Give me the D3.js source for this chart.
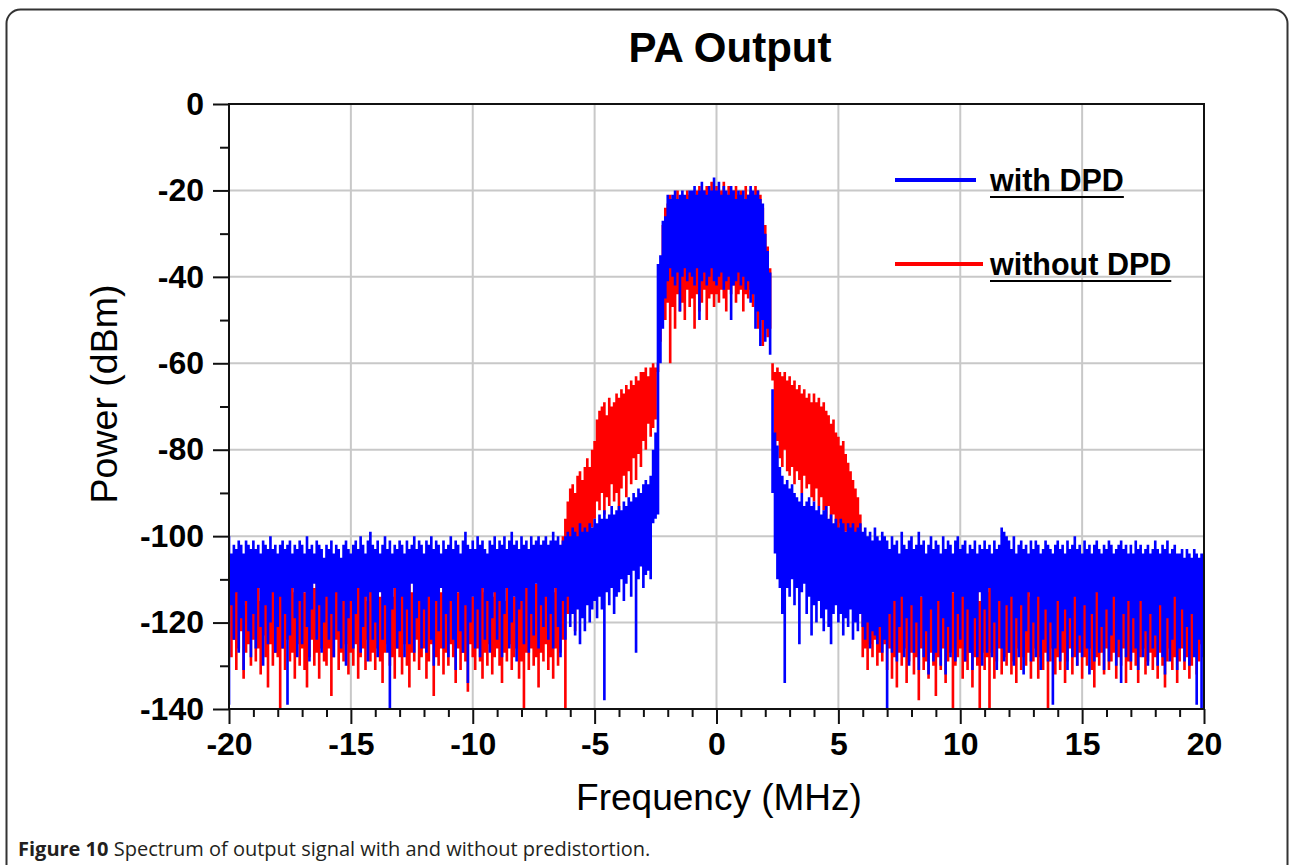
<!DOCTYPE html>
<html>
<head>
<meta charset="utf-8">
<script src="https://cdn.jsdelivr.net/npm/d3@7"></script>
<style>
  body { margin: 0; background: #fff; }
  .tick text { font-family: "Liberation Sans", Arial, sans-serif; font-weight: bold; font-size: 32px; fill: #000; }
</style>
</head>
<body>
<div id="chart"></div>
<script>
// spectrum sampled every 0.1 MHz from -20 to 20 MHz; each bin holds the top and bottom of the trace (dBm)
var freqStart = -20, freqStep = 0.1;

var withHi = [
  -100,-104,-102,-103,-101,-102,-104,-101,-102,-103,
  -101,-103,-102,-104,-101,-102,-103,-100,-103,-102,
  -104,-102,-101,-103,-102,-101,-104,-102,-103,-101,
  -102,-104,-100,-103,-102,-104,-101,-102,-103,-105,
  -102,-103,-101,-104,-102,-103,-105,-102,-101,-103,
  -104,-102,-101,-103,-100,-102,-104,-101,-99,-102,
  -103,-101,-104,-102,-100,-103,-101,-104,-102,-103,
  -101,-102,-104,-101,-103,-102,-100,-103,-101,-102,
  -104,-101,-102,-100,-103,-101,-102,-104,-101,-103,
  -102,-100,-103,-101,-102,-104,-101,-99,-102,-103,
  -101,-103,-100,-102,-101,-103,-104,-101,-102,-100,
  -103,-101,-102,-100,-103,-101,-99,-102,-101,-103,
  -100,-102,-101,-103,-100,-102,-101,-100,-102,-101,
  -100,-102,-101,-99,-101,-100,-102,-101,-100,-99,
  -100,-98,-99,-100,-97,-99,-98,-99,-97,-98,
  -96,-97,-95,-96,-94,-96,-95,-93,-95,-94,
  -93,-94,-92,-93,-91,-92,-90,-91,-89,-90,
  -88,-87,-88,-86,-80,-76,-37,-35,-27,-26,
  -21,-22,-21,-20,-22,-21,-20,-21,-22,-20,
  -20,-19,-21,-20,-18,-20,-21,-19,-20,-17,
  -20,-18,-21,-19,-20,-21,-19,-20,-22,-20,
  -21,-20,-22,-21,-19,-20,-21,-20,-22,-23,
  -30,-34,-39,-66,-76,-79,-84,-86,-88,-87,
  -89,-88,-90,-91,-92,-90,-93,-92,-91,-93,
  -92,-94,-93,-95,-94,-93,-96,-95,-97,-96,
  -98,-96,-97,-99,-97,-98,-97,-99,-98,-97,
  -99,-98,-100,-99,-101,-98,-100,-101,-99,-100,
  -101,-103,-100,-102,-101,-104,-99,-102,-103,-101,
  -100,-103,-102,-99,-102,-101,-104,-102,-100,-103,
  -101,-102,-104,-100,-103,-101,-102,-104,-101,-100,
  -103,-102,-101,-104,-102,-103,-101,-104,-102,-103,
  -101,-103,-102,-104,-101,-103,-102,-98,-99,-100,
  -101,-103,-100,-104,-102,-101,-103,-102,-104,-101,
  -103,-101,-102,-104,-103,-101,-102,-103,-104,-102,
  -101,-103,-102,-104,-101,-103,-102,-100,-103,-102,
  -104,-101,-103,-102,-104,-102,-101,-103,-104,-102,
  -103,-101,-102,-104,-103,-102,-101,-103,-102,-104,
  -102,-104,-101,-103,-102,-104,-103,-102,-104,-103,
  -101,-103,-104,-102,-103,-101,-104,-103,-102,-104,
  -104,-103,-105,-103,-104,-105,-103,-104,-105,-104,
  -104
];

var withLo = [
  -139,-116,-124,-113,-127,-119,-131,-115,-122,-128,
  -118,-126,-112,-121,-130,-116,-125,-120,-113,-127,
  -121,-114,-126,-118,-139,-123,-112,-119,-128,-115,
  -125,-113,-121,-129,-117,-111,-124,-116,-127,-120,
  -114,-124,-118,-128,-113,-122,-126,-115,-130,-119,
  -115,-126,-118,-112,-127,-121,-114,-129,-113,-124,
  -120,-128,-113,-124,-116,-127,-140,-117,-112,-126,
  -122,-114,-128,-117,-125,-111,-127,-119,-115,-126,
  -117,-127,-114,-124,-130,-115,-122,-112,-126,-118,
  -128,-115,-124,-131,-113,-122,-127,-116,-134,-120,
  -114,-126,-117,-128,-112,-124,-115,-127,-119,-113,
  -124,-115,-128,-118,-112,-126,-120,-114,-129,-117,
  -115,-125,-112,-127,-118,-123,-111,-126,-116,-121,
  -114,-124,-118,-126,-112,-121,-128,-115,-124,-114,
  -121,-118,-123,-117,-125,-119,-122,-116,-120,-117,
  -115,-119,-114,-117,-138,-113,-116,-112,-118,-114,
  -113,-110,-115,-111,-109,-114,-108,-127,-110,-107,
  -112,-109,-108,-110,-97,-96,-95,-60,-52,-45,
  -41,-38,-40,-42,-39,-48,-40,-38,-41,-39,
  -40,-42,-38,-50,-41,-39,-42,-40,-38,-41,
  -42,-40,-39,-43,-41,-40,-50,-42,-41,-39,
  -42,-40,-43,-41,-46,-44,-52,-48,-56,-50,
  -55,-52,-58,-90,-104,-110,-112,-118,-134,-112,
  -114,-110,-116,-112,-125,-113,-111,-118,-114,-123,
  -116,-120,-115,-119,-122,-117,-121,-125,-118,-116,
  -120,-118,-123,-119,-121,-117,-124,-120,-122,-118,
  -121,-124,-120,-126,-122,-123,-125,-121,-127,-124,
  -140,-118,-127,-115,-129,-121,-114,-128,-119,-130,
  -116,-127,-120,-131,-114,-128,-122,-132,-117,-129,
  -127,-115,-130,-119,-132,-121,-128,-113,-129,-118,
  -124,-114,-129,-117,-127,-131,-119,-128,-113,-130,
  -117,-127,-112,-128,-120,-131,-115,-126,-129,-116,
  -127,-114,-130,-119,-128,-116,-132,-122,-113,-129,
  -120,-128,-114,-131,-124,-117,-129,-120,-139,-126,
  -115,-129,-122,-117,-131,-119,-128,-114,-130,-123,
  -128,-116,-126,-132,-118,-129,-113,-127,-121,-131,
  -117,-129,-123,-114,-130,-124,-134,-118,-128,-115,
  -129,-119,-126,-131,-115,-128,-122,-130,-118,-126,
  -123,-130,-116,-128,-132,-119,-129,-124,-114,-131,
  -126,-117,-129,-121,-130,-118,-128,-139,-124,-140,
  -128
];

var withoutHi = [
  -112,-108,-115,-110,-113,-109,-116,-111,-108,-114,
  -110,-113,-107,-115,-111,-109,-114,-112,-108,-113,
  -114,-110,-112,-108,-115,-111,-109,-113,-110,-107,
  -109,-113,-111,-115,-108,-112,-110,-114,-109,-112,
  -113,-108,-111,-114,-110,-107,-112,-109,-115,-111,
  -110,-114,-109,-112,-108,-113,-111,-115,-110,-108,
  -112,-109,-114,-110,-113,-108,-111,-114,-109,-112,
  -108,-112,-110,-115,-109,-113,-111,-107,-114,-110,
  -113,-110,-108,-112,-114,-109,-111,-113,-108,-115,
  -109,-114,-111,-108,-113,-110,-115,-112,-109,-111,
  -114,-109,-112,-110,-107,-113,-111,-108,-114,-110,
  -111,-108,-113,-115,-110,-112,-109,-114,-111,-108,
  -113,-110,-108,-112,-114,-109,-111,-106,-113,-110,
  -111,-114,-109,-113,-110,-112,-108,-100,-96,-92,
  -89,-88,-90,-86,-85,-87,-84,-82,-84,-80,
  -78,-73,-71,-70,-69,-72,-68,-70,-69,-67,
  -68,-66,-67,-65,-66,-64,-65,-63,-64,-62,
  -62,-61,-63,-61,-60,-61,-60,-40,-28,-24,
  -23,-21,-22,-24,-20,-22,-21,-23,-20,-21,
  -21,-22,-20,-19,-21,-20,-19,-22,-18,-20,
  -19,-21,-20,-18,-22,-19,-21,-20,-19,-21,
  -20,-22,-19,-21,-20,-22,-19,-20,-21,-24,
  -28,-33,-38,-60,-62,-61,-62,-63,-62,-64,
  -63,-65,-64,-66,-65,-67,-66,-68,-67,-69,
  -67,-69,-68,-70,-69,-71,-72,-74,-73,-76,
  -77,-79,-78,-81,-83,-85,-87,-89,-91,-95,
  -100,-110,-112,-108,-114,-110,-113,-109,-112,-115,
  -112,-109,-114,-110,-113,-108,-111,-115,-110,-112,
  -109,-113,-111,-108,-114,-110,-112,-109,-113,-111,
  -114,-110,-112,-109,-111,-115,-108,-113,-110,-112,
  -111,-108,-113,-110,-114,-109,-112,-110,-115,-111,
  -109,-113,-110,-112,-108,-114,-111,-109,-113,-110,
  -112,-110,-114,-109,-111,-113,-108,-112,-110,-114,
  -110,-113,-109,-111,-114,-108,-112,-110,-113,-109,
  -113,-109,-111,-114,-110,-112,-108,-113,-111,-109,
  -111,-114,-108,-112,-110,-113,-109,-111,-114,-110,
  -109,-112,-110,-113,-108,-111,-114,-110,-112,-109,
  -112,-110,-113,-109,-111,-114,-110,-108,-112,-111,
  -110,-113,-109,-112,-114,-110,-111,-109,-113,-112,
  -113,-109,-111,-110,-112,-108,-111,-113,-110,-112,
  -116
];

var withoutLo = [
  -115,-128,-124,-131,-126,-122,-133,-127,-125,-130,
  -124,-129,-126,-132,-123,-128,-135,-125,-130,-127,
  -128,-140,-126,-131,-124,-129,-127,-133,-125,-130,
  -126,-131,-135,-128,-124,-130,-127,-133,-126,-129,
  -130,-126,-137,-128,-124,-131,-127,-129,-125,-132,
  -127,-130,-125,-133,-128,-126,-131,-124,-129,-127,
  -131,-126,-129,-134,-127,-125,-130,-128,-133,-126,
  -128,-132,-125,-130,-135,-127,-129,-124,-131,-128,
  -126,-133,-129,-125,-137,-128,-130,-126,-132,-127,
  -130,-125,-128,-134,-126,-131,-127,-129,-136,-125,
  -128,-131,-126,-129,-133,-127,-130,-125,-132,-128,
  -126,-130,-134,-127,-129,-125,-131,-128,-126,-133,
  -129,-140,-127,-131,-126,-130,-128,-135,-127,-129,
  -125,-131,-128,-133,-126,-130,-127,-124,-140,-118,
  -115,-110,-122,-108,-105,-112,-104,-100,-106,-98,
  -96,-92,-94,-90,-95,-91,-93,-88,-92,-90,
  -94,-89,-86,-91,-85,-88,-82,-87,-81,-84,
  -78,-80,-74,-77,-75,-73,-62,-55,-48,-50,
  -46,-60,-47,-52,-44,-48,-46,-50,-43,-47,
  -45,-52,-44,-48,-46,-43,-50,-45,-44,-47,
  -44,-46,-43,-45,-48,-43,-44,-42,-46,-44,
  -43,-48,-44,-45,-43,-47,-44,-52,-46,-56,
  -50,-54,-52,-64,-80,-78,-82,-84,-80,-85,
  -86,-84,-88,-85,-87,-90,-86,-89,-88,-91,
  -92,-89,-93,-91,-94,-96,-93,-97,-95,-99,
  -100,-97,-101,-99,-103,-102,-105,-104,-107,-108,
  -128,-126,-131,-125,-128,-124,-130,-127,-129,-125,
  -131,-126,-133,-128,-135,-127,-130,-126,-134,-129,
  -127,-132,-128,-138,-126,-131,-129,-133,-127,-130,
  -137,-128,-131,-126,-134,-129,-127,-140,-130,-128,
  -126,-133,-129,-131,-127,-135,-128,-130,-140,-127,
  -131,-128,-140,-127,-133,-129,-126,-132,-128,-130,
  -127,-132,-129,-134,-126,-131,-128,-130,-127,-133,
  -129,-126,-133,-128,-131,-127,-140,-129,-126,-132,
  -128,-131,-127,-134,-129,-126,-132,-128,-130,-127,
  -133,-128,-130,-126,-131,-135,-128,-130,-127,-132,
  -126,-131,-129,-127,-133,-128,-130,-126,-134,-129,
  -131,-127,-130,-134,-128,-126,-132,-129,-127,-131,
  -128,-133,-127,-130,-135,-129,-126,-131,-128,-134,
  -129,-126,-131,-128,-133,-130,-127,-132,-129,-125,
  -126
];

var yTicks = [0, -20, -40, -60, -80, -100, -120, -140],
    yMinor = [-10, -30, -50, -70, -90, -110, -130],
    xTicks = [-20, -15, -10, -5, 0, 5, 10, 15, 20],
    xMinor = [-19,-18,-17,-16,-14,-13,-12,-11,-9,-8,-7,-6,-4,-3,-2,-1,1,2,3,4,6,7,8,9,11,12,13,14,16,17,18,19];

var series = [
  {name: "without DPD", color: "#ff0000", hi: withoutHi, lo: withoutLo},
  {name: "with DPD", color: "#0000ff", hi: withHi, lo: withLo}
];

var W = 1289, H = 865,
    margin = {top: 104, right: 85, bottom: 156, left: 229},
    width = W - margin.left - margin.right,
    height = H - margin.top - margin.bottom;

var root = d3.select("#chart").append("svg")
    .attr("width", W)
    .attr("height", H);

// outer figure box
root.append("rect")
    .attr("x", 6.5).attr("y", 9.5)
    .attr("width", 1281).attr("height", 900)
    .attr("rx", 14)
    .attr("fill", "none")
    .attr("stroke", "#333")
    .attr("stroke-width", 2);

root.append("text")
    .attr("x", 730).attr("y", 62)
    .attr("text-anchor", "middle")
    .style("font-family", "'Liberation Sans', Arial, sans-serif")
    .style("font-weight", "bold")
    .style("font-size", "42px")
    .text("PA Output");

var svg = root.append("g")
    .attr("transform", "translate(" + margin.left + "," + margin.top + ")");

var x = d3.scaleLinear().domain([-20, 20]).range([0, width]);
var y = d3.scaleLinear().domain([-140, 0]).range([height, 0]);

// grid
svg.append("g").selectAll("line")
    .data(xTicks.slice(1, -1))
    .enter().append("line")
    .attr("x1", d => x(d)).attr("x2", d => x(d))
    .attr("y1", 0).attr("y2", height)
    .attr("stroke", "#c8c8c8").attr("stroke-width", 2);

svg.append("g").selectAll("line")
    .data(yTicks.slice(1, -1))
    .enter().append("line")
    .attr("y1", d => y(d)).attr("y2", d => y(d))
    .attr("x1", 0).attr("x2", width)
    .attr("stroke", "#c8c8c8").attr("stroke-width", 2);

svg.append("clipPath").attr("id", "clip")
    .append("rect").attr("width", width).attr("height", height);

// each 0.1 MHz bin is a vertical stroke from the trace top to its bottom
var binW = x(freqStart + freqStep) - x(freqStart);
series.forEach(function(s) {
    var p = d3.path();
    s.hi.forEach(function(h, i) {
        var f = freqStart + i * freqStep;
        p.moveTo(x(f), y(h));
        p.lineTo(x(f), y(s.lo[i]));
    });
    svg.append("path")
        .attr("clip-path", "url(#clip)")
        .attr("d", p.toString())
        .attr("fill", "none")
        .attr("stroke", s.color)
        .attr("stroke-width", binW + 0.2);
});

// frame
svg.append("rect")
    .attr("width", width).attr("height", height)
    .attr("fill", "none")
    .attr("stroke", "#111")
    .attr("stroke-width", 2);

// axes (plain hyphen minus, as in the original)
var fmt = d => String(d);
svg.append("g")
    .call(d3.axisLeft(y).tickValues(yTicks).tickSize(16).tickPadding(9).tickFormat(fmt));
svg.append("g")
    .call(d3.axisLeft(y).tickValues(yMinor).tickSize(9).tickFormat(""));

svg.append("g")
    .attr("transform", "translate(0," + height + ")")
    .call(d3.axisBottom(x).tickValues(xTicks).tickSize(15).tickPadding(8).tickFormat(fmt));
svg.append("g")
    .attr("transform", "translate(0," + height + ")")
    .call(d3.axisBottom(x).tickValues(xMinor).tickSize(8).tickFormat(""));

svg.selectAll(".domain").remove();
svg.selectAll(".tick line").attr("stroke", "#111").attr("stroke-width", 2);

// axis titles
root.append("text")
    .attr("transform", "translate(117,394) rotate(-90)")
    .attr("text-anchor", "middle")
    .style("font-family", "'Liberation Sans', Arial, sans-serif")
    .style("font-size", "37.5px")
    .text("Power (dBm)");

root.append("text")
    .attr("x", 719).attr("y", 810)
    .attr("text-anchor", "middle")
    .style("font-family", "'Liberation Sans', Arial, sans-serif")
    .style("font-size", "37px")
    .text("Frequency (MHz)");

// legend
var legend = root.append("g");
var legendRows = [
  {name: "with DPD", color: "#0000ff", y: 180, x2: 976},
  {name: "without DPD", color: "#ff0000", y: 264, x2: 983}
];
legendRows.forEach(function(r) {
    legend.append("line")
        .attr("x1", 895).attr("x2", r.x2)
        .attr("y1", r.y).attr("y2", r.y)
        .attr("stroke", r.color).attr("stroke-width", 4);
    var t = legend.append("text")
        .attr("x", 990).attr("y", r.y + 11)
        .style("font-family", "'Liberation Sans', Arial, sans-serif")
        .style("font-weight", "bold")
        .style("font-size", "30.5px")
        .text(r.name);
    var w = t.node().getComputedTextLength();
    legend.append("line")
        .attr("x1", 990).attr("x2", 990 + w)
        .attr("y1", r.y + 17).attr("y2", r.y + 17)
        .attr("stroke", "#000").attr("stroke-width", 2);
});

// caption
var cap = root.append("text")
    .attr("x", 18).attr("y", 856)
    .style("font-family", "'Open Sans', 'Noto Sans', sans-serif")
    .style("font-size", "20px")
    .attr("fill", "#231f20");
cap.append("tspan").style("font-weight", "bold").text("Figure 10");
cap.append("tspan").text(" Spectrum of output signal with and without predistortion.");
</script>
</body>
</html>
